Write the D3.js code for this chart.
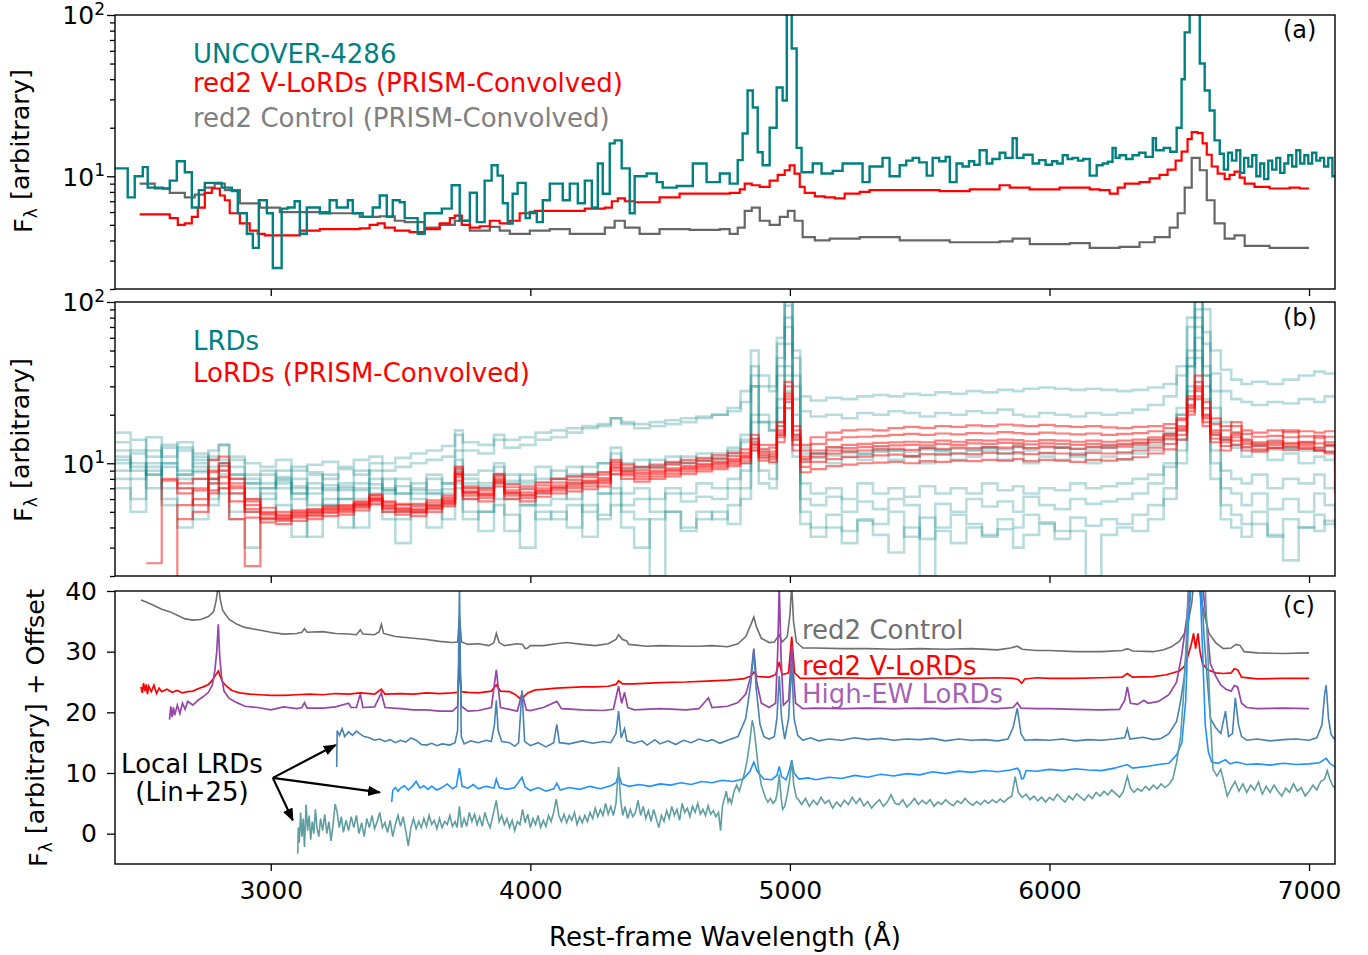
<!DOCTYPE html>
<html><head><meta charset="utf-8">
<script src="https://cdn.jsdelivr.net/npm/d3@7"></script>
<style>
body{margin:0;background:#fff;}
text{font-family:"DejaVu Sans",sans-serif;}
</style>
</head><body>
<svg id="chart" width="1368" height="955"></svg>
<script>
// ---------------- DATA ----------------
const xTicks = [3000,4000,5000,6000,7000];
const logMajor = [10,100];
const logMinor = [2,3,4,5,6,7,8,9,20,30,40,50,60,70,80,90];
const linTicks = [0,10,20,30,40];

// Panel (a): [rest wavelength, flux] step spectra
const uncover4286 = [[2400,11.2],[2449,7.4],[2476,10],[2507,11.4],[2526,8.5],[2584,8.4],[2611,9.4],[2638,12.4],[2669,10.6],[2696,6.4],[2723,8.2],[2746,9.1],[2811,8.5],[2850,8.1],[2873,5.9],[2908,4.4],[2931,3.6],[2954,7.1],[2985,5.9],[3008,2.7],[3042,6.3],[3065,6.4],[3092,7.0],[3112,4.4],[3139,6.4],[3189,5.9],[3227,7.1],[3254,6.4],[3297,7.1],[3316,5.9],[3354,5.6],[3393,6.4],[3420,7.6],[3447,5.6],[3470,7.1],
[3497,6.9],[3516,5.5],[3566,4.4],[3593,5.9],[3659,6.3],[3697,8.8],[3728,5.3],[3767,7.9],[3794,5.2],[3824,9.4],[3851,11.7],[3874,10.1],[3894,6.8],[3913,5.1],[3932,7.8],[3951,9.1],[3982,5.5],[3998,6.0],[4025,5.2],[4048,7.1],[4075,9.0],[4125,7.1],[4152,9.0],[4183,6.8],[4210,9.4],[4237,6.4],[4260,12.0],[4279,7.8],[4306,16.0],[4325,16.7],[4352,11.2],[4383,5.9],[4402,10.0],[4448,10.4],[4487,9.2],[4510,8.5],[4564,8.7],[4626,12.0],[4679,9.2],[4730,10.4],[4768,9.0],[4799,12.6],[4818,18.4],[4837,34],[4857,26.7],[4876,14.1],[4895,11.7],[4922,20],[4949,35.5],[4972,29.5],[4988,250],[5007,62],[5026,15],[5045,10.6],[5088,12.0],[5122,10.4],[5165,10.8],[5203,12.0],[5280,9.2],[5307,11.5],[5357,13.0],[5384,10.0],
[5423,11.7],[5448,12.5],[5473,13.0],[5498,12.2],[5527,10.1],[5550,13.0],[5575,12.4],[5600,13.2],[5616,9.2],[5642,12.0],[5665,11.5],[5690,12.4],[5710,11.8],[5731,14.5],[5758,12.0],[5780,12.8],[5808,14.0],[5830,13.0],[5858,17.2],[5874,13.0],[5900,13.6],[5935,12.0],[5960,12.6],[5985,11.8],[6010,12.4],[6030,12.0],[6051,13.5],[6070,12.8],[6089,13.0],[6110,12.5],[6130,12.8],[6155,10.1],[6182,11.7],[6205,12.0],[6225,12.3],[6243,15.0],[6255,13.0],[6270,13.5],[6295,12.8],[6320,13.5],[6345,14.0],[6370,13.2],[6398,17.2],[6410,14.5],[6440,15.0],[6465,14.2],[6490,20.0],[6509,40],[6521,78],[6540,250],[6579,50],[6598,34],[6617,25.6],[6636,16.7],
[6656,13.8],[6672,11],[6688,14],[6703,12.5],[6720,14.5],[6735,10.5],[6750,13],[6766,11.5],[6781,13.5],[6797,10],[6812,12],[6827,9.6],[6843,12.5],[6858,11],[6874,13],[6889,10.5],[6905,12],[6920,13.5],[6935,11.5],[6951,14.5],[6966,12],[6982,13.5],[6997,12],[7012,14],[7028,12.5],[7043,13],[7058,11.5],[7074,13],[7090,10],[7100,10]];

const red2VLoRDsPrism = [[2495,5.8],[2572,5.8],[2611,5.5],[2642,5.0],[2669,5.1],[2696,5.6],[2719,6.4],[2746,7.9],[2773,8.4],[2804,7.6],[2823,7.1],[2842,5.9],[2881,5.1],[2919,4.6],[2950,4.4],[2977,4.3],[3054,4.3],[3112,4.6],[3189,4.7],[3266,4.7],[3343,4.75],[3381,5.0],[3412,5.1],[3439,4.8],[3478,4.6],[3535,4.5],[3593,4.7],[3651,5.1],[3690,5.5],[3709,5.7],[3736,5.0],[3767,4.8],[3805,4.9],[3844,5.3],[3882,5.1],[3921,5.3],[3959,5.9],[4017,6.1],[4113,6.1],[4210,6.3],[4287,6.4],[4314,7.0],[4337,7.3],[4364,7.0],[4402,6.9],[4441,6.9],[4498,7.4],[4575,7.8],[4691,7.8],[4768,7.9],[4807,8.3],[4826,9.0],[4853,8.8],[4884,8.6],[4922,9.4],[4953,10.2],[4980,10.9],[4999,11.7],[5018,10.4],[5038,8.6],[5057,7.9],[5096,7.5],[5134,7.4],[5173,7.3],[5211,7.8],[5269,8.0],[5307,8.2],[5423,8.2],[5577,8.1],[5693,8.3],[5808,8.8],[5847,8.5],[5924,8.3],[6039,8.5],[6155,8.3],[6193,8.2],[6232,7.8],[6263,8.5],[6290,9.0],[6347,9.2],[6386,9.7],[6424,10.2],[6455,11],[6486,12.5],[6509,14.2],[6532,17],[6548,18.8],[6571,18.5],[6590,16],[6606,13.6],[6625,11.5],[6648,10.4],[6675,9.6],[6694,10.2],[6713,10.7],[6733,9.8],[6752,9.0],[6790,8.6],[6848,8.4],[6925,8.5],[6964,8.4],[7000,8.4]];

const red2ControlPrism = [[2495,9.0],[2553,8.4],[2611,7.9],[2669,7.4],[2707,7.7],[2746,8.5],[2784,9.0],[2823,8.2],[2881,6.8],[2958,6.4],[3035,6.0],[3112,6.0],[3227,5.9],[3343,5.6],[3420,5.65],[3478,5.3],[3516,5.2],[3593,4.8],[3651,5.0],[3709,5.3],[3767,4.6],[3844,4.85],[3882,4.6],[3921,4.4],[3998,4.6],[4075,4.7],[4152,4.4],[4248,4.4],[4287,4.8],[4325,5.3],[4364,4.8],[4421,4.4],[4498,4.7],[4614,4.65],[4730,4.7],[4768,4.4],[4799,4.8],[4826,6.1],[4853,6.4],[4884,5.3],[4922,5.0],[4961,5.6],[4992,6.1],[5018,5.3],[5049,4.2],[5096,4.0],[5153,4.1],[5269,4.2],[5346,4.2],[5423,4.0],[5616,3.9],[5808,3.95],[5858,4.1],[5924,3.8],[6078,3.85],[6155,3.6],[6270,3.65],[6347,3.9],[6405,4.2],[6463,4.8],[6494,5.9],[6521,8.5],[6548,13],[6579,10.9],[6606,7.1],[6636,5.1],[6675,4.1],[6713,4.3],[6752,3.7],[6848,3.6],[7000,3.6]];

// Panel (b): shared bin grid (rest wavelength) + per-object fluxes
const bGrid = [2400,2460,2520,2580,2640,2700,2760,2800,2840,2900,2960,3020,3080,3140,3200,3260,3320,3380,3430,3480,3540,3600,3660,3710,3740,3800,3860,3900,3960,4020,4080,4140,4200,4260,4310,4350,4400,4460,4520,4580,4640,4700,4760,4810,4850,4880,4920,4950,4980,5010,5040,5080,5140,5200,5260,5320,5380,5440,5500,5560,5620,5680,5740,5800,5860,5900,5960,6020,6080,6140,6200,6260,6320,6380,6440,6490,6530,6560,6590,6620,6660,6700,6740,6780,6840,6900,6960,7020,7060,7100];

const lrd1 = [13.5,12.0,14.5,11.0,12.5,10.5,12.0,13.0,11.0,10.0, 9.5,10.5,9.0,9.8,10.2,9.5,10.5,11.0,10.0,10.8, 11.5,12.0,12.8,16.0,13.5,13.0,15.0,14.0,14.5,15.5, 16.0,16.5,17.0,17.5,19.0,18.0,17.5,18.0,18.5,19.0, 19.5,20.0,21.0,24.0,40.0,30.0,28.0,60.0,110.0,50.0, 26.0,24.5,25.5,25.0,26.0,26.5,26.0,27.0,26.5,27.5, 27.0,28.0,27.5,28.5,28.0,29.0,29.5,29.0,28.5,29.0, 28.5,28.0,28.5,29.5,31.0,40.0,80.0,150.0,90.0,50.0, 38.0,33.0,31.0,32.0,31.0,33.0,35.0,37.0,36.0,36.0];
const lrd2 = [15.5,14.0,11.0,12.5,13.5,11.5,10.5,13.0,9.5,8.5, 9.0,8.2,9.5,8.8,8.0,9.2,8.5,10.0,9.0,9.5, 10.0,10.5,11.0,15.0,12.0,11.5,14.0,12.5,13.0,14.0, 14.5,15.5,16.5,17.0,19.0,17.5,16.5,17.0,17.5,18.0, 19.0,20.0,22.0,28.0,50.0,35.0,30.0,55.0,95.0,45.0, 21.0,19.5,20.0,19.0,20.5,20.0,21.0,20.5,19.5,20.5, 20.0,21.0,20.5,21.5,20.0,19.5,20.5,20.0,19.5,20.5, 20.0,20.5,21.5,23.0,26.0,35.0,70.0,120.0,65.0,36.0, 28.0,25.0,24.0,23.0,24.0,23.5,25.0,24.0,26.0,25.0];
const lrd3 = [11.0,9.5,12.0,10.0,8.5,9.0,11.0,10.5,8.0,7.5, 7.0,8.0,6.5,7.5,6.8,7.2,6.0,8.0,7.0,6.5, 7.5,6.8,7.5,10.5,8.0,7.5,9.5,7.8,8.5,8.0, 9.0,8.5,9.5,10.0,11.5,10.0,9.5,10.5,10.0,11.0, 10.5,11.5,12.0,15.0,35.0,20.0,18.0,45.0,100.0,35.0, 12.5,11.5,12.5,12.0,11.5,12.5,12.0,11.0,12.5,12.0, 11.5,12.0,12.5,11.5,13.0,12.0,11.5,12.5,11.0,12.0, 12.5,11.5,12.5,13.0,15.0,22.0,50.0,100.0,55.0,28.0, 18.0,15.5,14.0,13.0,14.0,12.5,13.5,12.0,13.0,12.5];
const lrd4 = [9.0,11.5,8.5,10.0,12.0,9.5,8.0,9.0,10.5,7.5, 8.5,7.0,8.0,6.5,8.5,7.0,7.5,9.0,6.8,8.0, 7.0,8.5,7.5,12.0,8.5,9.0,10.0,8.5,7.5,9.5, 8.0,9.5,8.5,10.0,12.5,9.0,10.5,9.5,11.0,10.0, 11.5,10.5,12.5,14.0,30.0,18.0,16.0,40.0,80.0,30.0, 10.5,11.5,10.0,11.0,10.5,12.0,10.5,11.0,10.0,11.5, 10.5,11.0,12.0,10.5,11.5,10.0,11.0,10.5,11.5,10.0, 11.0,10.5,11.5,12.0,14.0,20.0,45.0,90.0,40.0,22.0, 14.0,12.5,11.0,12.0,10.5,11.5,10.0,11.0,10.5,11.0];
const lrd5 = [10.5,8.0,9.5,7.0,8.5,10.0,7.5,8.5,6.5,7.0, 6.0,7.5,6.5,5.5,7.0,6.0,6.8,5.5,6.5,7.2, 6.0,5.5,6.5,8.5,6.0,7.0,7.5,6.5,5.5,6.5, 7.0,6.0,7.5,6.5,8.5,6.5,7.0,6.0,7.0,6.5, 7.5,7.0,8.0,10.0,18.0,12.0,11.0,25.0,55.0,20.0, 7.5,6.5,7.0,6.0,7.5,6.5,7.0,6.2,7.2,6.5, 7.0,6.5,7.5,6.8,7.2,6.5,7.0,6.8,7.5,7.0, 7.2,7.5,8.0,8.5,10.0,16.0,40.0,70.0,35.0,15.0, 9.0,8.0,7.5,8.5,7.0,8.0,7.5,8.5,7.0,8.0];
const lrd6 = [8.0,6.0,9.0,5.5,7.0,4.5,8.0,6.5,5.0,6.0, 4.5,5.5,3.5,5.0,6.0,4.0,5.5,7.0,5.0,4.5, 5.5,4.0,6.0,7.5,4.5,5.0,6.0,3.8,5.5,4.5, 5.0,4.0,5.5,4.5,6.5,5.0,4.5,2.0,5.0,4.0, 5.0,4.5,5.5,7.0,14.0,9.0,8.0,18.0,35.0,14.0, 5.0,4.0,4.8,3.8,4.5,4.2,5.0,3.5,4.6,4.0, 4.8,4.2,3.6,4.5,4.0,4.8,4.3,3.8,4.6,4.1, 4.5,4.2,4.8,5.5,7.0,12.0,28.0,50.0,25.0,10.0, 5.5,4.8,4.2,5.0,3.5,4.5,4.0,4.8,4.2,4.6];
const lrd7 = [12.0,10.0,7.0,13.0,9.0,11.0,6.0,10.0,8.5,5.0, 7.0,9.0,6.0,8.5,5.5,7.5,9.0,6.5,8.0,5.0, 6.5,8.0,5.5,9.0,7.0,5.0,8.5,6.0,7.0,5.5, 6.0,7.5,5.0,6.5,7.0,5.5,6.0,5.0,6.5,5.8, 6.2,6.0,7.0,9.0,20.0,11.0,10.0,22.0,40.0,15.0, 6.0,5.5,6.2,5.0,5.8,5.2,6.0,5.5,2.0,5.6, 5.0,6.0,5.4,5.8,5.0,6.2,5.5,5.2,6.0,5.6, 5.8,6.0,6.5,7.5,9.5,14.0,30.0,60.0,30.0,12.0, 7.0,6.5,5.5,6.5,5.2,6.0,5.0,6.5,5.5,5.0];
const lrd8 = [7.0,5.0,10.0,6.0,4.0,8.0,5.5,7.0,4.5,3.0, 6.5,4.5,7.0,3.5,5.5,6.0,4.0,6.0,4.5,3.2, 5.0,6.5,4.5,7.0,5.0,3.8,5.5,4.8,3.0,5.0, 4.5,5.5,3.5,4.8,5.5,4.0,3.0,4.5,5.0,3.8, 4.5,5.0,4.2,6.0,12.0,7.5,7.0,15.0,28.0,11.0, 4.2,3.5,4.0,3.2,4.4,3.6,2.8,4.0,3.4,3.8, 3.2,4.0,3.5,3.9,3.0,3.6,4.2,3.4,3.8,2.0, 3.6,4.0,3.8,4.5,6.0,10.0,25.0,45.0,20.0,8.0, 4.5,4.0,3.5,4.2,3.6,2.5,4.0,3.8,4.4,4.0];
const lrd9 = [10.0,9.0,8.5,9.5,8.0,8.8,9.5,10.0,8.5,8.0, 7.5,7.8,7.2,7.0,7.3,6.8,7.0,7.4,6.8,6.5, 6.8,6.5,6.9,9.5,7.5,7.2,8.5,7.5,7.8,7.6, 8.0,8.2,8.6,8.8,10.0,9.2,9.4,9.6,10.0,10.2, 10.5,10.8,11.5,13.5,30.0,18.0,16.0,35.0,70.0,25.0, 11.5,10.8,11.2,11.6,11.4,11.8,12.0,11.8,12.2,12.0, 12.3,12.1,12.5,12.2,12.6,12.4,12.8,12.5,12.3,12.6, 12.8,13.0,13.4,14.0,15.5,20.0,40.0,80.0,35.0,18.0, 14.0,13.0,12.5,12.8,12.2,12.5,12.0,12.4,11.8,9.0];

const lord1 = [null,null,null,null,7.5,8.0,10.5,11.0,8.0,6.0, 5.3,5.0,5.1,5.2,5.4,5.5,5.8,6.4,5.8,5.6, 5.6,5.9,6.3,9.5,7.2,7.0,8.6,7.4,7.2,7.6, 8.0,8.3,8.5,8.8,10.5,9.8,9.5,9.8,10.2,10.5, 10.8,11.2,11.6,12.2,15.0,13.0,13.0,18.0,32.0,17.0, 13.0,14.5,15.5,16.0,16.2,16.0,16.5,16.8,16.6,17.0, 16.8,17.2,17.0,17.4,17.2,17.0,17.3,17.0,16.8,17.0, 16.7,16.5,16.8,17.0,17.5,19.0,26.0,35.0,24.0,19.0, 17.0,18.0,16.0,15.5,16.0,15.6,15.8,15.5,15.8,15.8];
const lord2 = [null,null,null,null,null,7.0,9.0,10.0,7.5,5.8, 5.0,4.8,5.0,5.1,5.3,5.4,5.7,6.3,5.7,5.5, 5.4,5.7,6.1,9.2,7.0,6.8,8.3,7.1,6.9,7.3, 7.6,7.9,8.2,8.5,10.2,9.4,9.1,9.4,9.8,10.0, 10.3,10.7,11.1,11.6,14.2,12.3,12.5,17.0,30.0,16.0, 12.0,13.2,14.0,14.5,14.6,14.8,15.0,15.2,15.0,15.3, 15.1,15.4,15.3,15.6,15.4,15.2,15.5,15.3,15.1,15.3, 15.0,15.2,15.4,15.8,16.5,18.5,25.0,32.0,22.0,17.5, 16.0,17.0,15.2,14.6,14.8,14.5,14.7,14.4,14.6,14.6];
const lord3 = [null,null,null,7.8,6.5,6.8,8.8,9.6,7.2,5.5, 4.9,4.7,4.9,5.0,5.2,5.3,5.6,6.1,5.5,5.3, 5.2,5.5,5.9,8.8,6.7,6.5,8.0,6.8,6.6,7.0, 7.3,7.6,7.8,8.1,9.8,9.0,8.8,9.0,9.3,9.6, 9.9,10.2,10.6,11.2,13.6,11.8,11.8,16.0,27.0,15.0, 11.0,12.0,12.6,13.0,13.2,13.4,13.5,13.6,13.5,13.8, 13.6,13.9,13.8,14.0,13.9,13.7,13.9,13.8,13.6,13.8, 13.6,13.8,14.0,14.5,15.2,17.0,23.0,30.0,20.0,16.0, 14.5,15.5,14.0,13.5,13.7,13.4,13.6,13.3,13.5,13.0];
const lord4 = [null,null,2.4,8.0,7.0,5.5,6.8,7.5,4.5,2.3, 4.6,4.5,4.7,4.8,5.0,5.1,5.4,5.9,5.3,5.1, 5.0,5.3,5.7,8.5,6.5,6.3,7.7,6.5,6.3,6.7, 7.0,7.2,7.5,7.7,9.3,8.6,8.3,8.6,8.9,9.2, 9.5,9.8,10.2,10.8,13.0,11.2,11.0,15.0,25.0,14.0, 10.2,11.0,11.5,11.8,12.0,12.2,12.3,12.1,12.4,12.3, 12.5,12.4,12.6,12.5,12.7,12.4,12.6,12.5,12.3,12.6, 12.5,12.7,13.0,13.5,14.2,16.0,22.0,28.0,19.0,15.0, 13.5,14.5,13.2,12.8,13.0,12.7,12.9,12.5,12.8,12.5];
const lord5 = [null,null,null,1.8,5.5,6.0,7.5,8.2,6.5,5.0, 4.5,4.4,4.6,4.7,4.9,5.0,5.3,5.8,5.2,5.0, 4.9,5.2,5.6,8.2,6.3,6.1,7.5,6.3,6.1,6.5, 6.8,7.0,7.2,7.5,9.0,8.4,8.0,8.3,8.6,8.9, 9.2,9.5,9.9,10.4,12.5,10.8,10.6,14.5,24.0,13.0, 9.5,10.2,10.6,10.9,11.0,11.2,11.3,11.1,11.4,11.3, 11.5,11.4,11.6,11.5,11.7,11.4,11.6,11.5,11.3,11.6, 11.5,11.7,12.0,12.5,13.2,15.0,21.0,26.0,18.0,14.2, 12.8,13.8,12.6,12.2,12.4,12.1,12.3,12.0,11.5,11.0];
const lord6 = [null,null,null,null,4.5,5.0,6.5,7.0,5.8,4.6, 4.3,4.2,4.4,4.5,4.7,4.8,5.1,5.6,5.0,4.8, 4.7,5.0,5.4,7.8,6.0,5.8,7.2,6.0,5.8,6.2, 6.5,6.7,6.9,7.2,8.6,8.0,7.7,8.0,8.3,8.6, 8.9,9.2,9.6,10.0,12.0,10.4,10.2,13.5,22.0,12.0, 8.8,9.2,9.6,9.8,10.0,10.1,10.2,10.0,10.3,10.2, 10.4,10.3,10.5,10.4,10.6,10.3,10.5,10.4,10.2,10.5, 10.4,10.6,10.9,11.5,12.2,14.0,20.0,25.0,17.0,13.5, 12.0,13.0,12.0,11.8,12.5,16.0,12.5,12.0,11.8,11.5];
const lord7 = [null,null,null,null,null,null,8.0,9.0,7.0,5.2, 4.8,4.6,4.8,4.9,5.1,5.2,5.5,6.0,5.4,5.2, 5.1,5.4,5.8,8.6,6.6,6.4,7.8,6.6,6.4,6.8, 7.1,7.4,7.7,7.9,9.5,8.8,8.6,8.8,9.1,9.4, 9.7,10.0,10.4,11.0,13.2,11.5,11.4,15.5,26.0,14.5, 10.6,11.5,12.0,12.4,12.6,12.8,12.9,13.0,12.9,13.2, 13.0,13.3,13.2,13.4,13.3,13.1,13.3,13.2,13.0,13.2, 13.0,13.2,13.4,14.0,14.8,16.5,22.5,29.0,19.5,15.5, 14.0,15.0,13.6,13.2,13.4,13.1,13.3,14.8,13.0,6.5];

// Panel (c): [rest wavelength, flux + offset]
const red2Control = [[2500,38.5],[2520,38.2],[2550,37.6],[2580,37.0],[2610,36.6],[2640,36.0],[2670,35.4],[2700,35.2],[2730,35.3],[2760,35.8],[2780,36.6],[2790,38.5],[2798,41],[2806,38.5],[2815,36.8],[2840,35.3],[2870,34.5],[2900,34.0],[2950,33.6],[3000,33.2],[3050,32.9],[3100,33.0],[3120,33.2],[3130,33.8],[3140,33.2],[3200,33.3],[3250,33.0],[3300,32.9],[3330,32.8],[3345,33.6],[3355,32.9],[3400,32.8],[3418,33.3],[3426,34.5],[3435,33.0],[3480,32.5],[3550,32.2],[3600,32.0],[3650,31.7],[3700,31.5],[3720,31.6],[3727,35.8],[3735,31.6],[3760,31.2],[3800,31.3],[3840,31.0],[3860,31.5],[3869,33.0],[3880,31.5],[3900,31.0],[3950,31.3],[3970,31.2],[3980,30.5],[3990,30.6],[4000,31.0],[4050,31.0],[4100,31.3],[4140,31.5],[4200,31.2],[4250,31.0],[4300,31.3],[4330,32.0],[4340,32.8],[4355,32.0],[4370,31.8],[4380,31.2],[4450,30.9],[4500,31.0],[4600,30.9],[4650,30.9],[4700,31.0],[4760,30.8],[4800,31.3],[4830,32.5],[4850,34.5],[4861,35.7],[4872,34.0],[4890,32.2],[4920,31.5],[4940,31.6],[4959,32.8],[4970,31.6],[4990,32.5],[5000,36],[5007,41],[5014,35],[5025,31.6],[5050,30.6],[5100,30.6],[5200,30.5],[5300,30.5],[5400,30.4],[5500,30.5],[5600,30.4],[5700,30.5],[5800,30.3],[5850,30.6],[5876,30.9],[5895,30.4],[5950,30.2],[6000,30.2],[6100,30.0],[6200,30.0],[6280,30.2],[6300,30.5],[6320,30.1],[6400,30.0],[6440,30.3],[6470,30.8],[6500,31.7],[6520,33],[6535,35],[6548,38],[6555,41],[6575,41],[6585,38.5],[6600,35.5],[6615,33],[6640,31.5],[6670,30.5],[6700,30.6],[6712,31.0],[6720,31.2],[6735,31.0],[6750,30.0],[6800,29.8],[6900,29.7],[7000,29.8]];

const red2VLoRDs = [[2500,24.2],[2505,23.2],[2510,24.8],[2515,23.5],[2520,24.6],[2525,23.0],[2530,24.3],[2540,23.4],[2550,24.5],[2560,23.1],[2570,24.0],[2580,23.4],[2600,23.8],[2620,23.3],[2640,23.6],[2660,23.2],[2680,23.4],[2700,23.5],[2720,23.9],[2740,24.2],[2760,24.6],[2775,25.3],[2790,26.3],[2798,26.8],[2805,26.0],[2815,25.0],[2830,24.3],[2850,23.6],[2880,23.2],[2920,23.0],[2960,22.9],[3000,22.8],[3050,22.8],[3100,22.9],[3150,23.0],[3200,22.9],[3250,23.1],[3300,23.0],[3345,23.2],[3400,23.0],[3426,23.8],[3440,23.0],[3500,23.1],[3550,23.0],[3600,23.2],[3650,23.1],[3700,23.2],[3720,23.3],[3727,27.3],[3734,23.4],[3760,23.3],[3800,23.2],[3850,23.5],[3869,24.5],[3885,23.5],[3920,23.4],[3940,23.0],[3960,22.3],[3975,22.6],[3990,23.2],[4020,23.7],[4050,23.8],[4100,24.0],[4200,24.2],[4250,24.2],[4300,24.3],[4330,24.6],[4340,25.2],[4355,24.7],[4400,24.7],[4500,24.9],[4600,25.0],[4700,25.2],[4760,25.3],[4820,25.5],[4850,26.0],[4861,26.6],[4875,25.9],[4920,25.8],[4945,26.2],[4959,28.3],[4970,26.2],[4995,26.5],[5007,32.5],[5018,26.5],[5040,25.6],[5100,25.6],[5200,25.7],[5300,25.6],[5400,25.7],[5500,25.6],[5600,25.7],[5700,25.6],[5800,25.7],[5860,25.6],[5880,25.4],[5893,24.8],[5905,25.5],[5950,25.7],[6000,25.6],[6100,25.6],[6200,25.7],[6280,25.8],[6300,26.4],[6320,25.8],[6400,25.9],[6450,26.2],[6500,26.8],[6520,27.6],[6535,29.5],[6548,31.5],[6555,33.0],[6563,30.5],[6572,33.0],[6580,30.0],[6590,28.0],[6610,27.0],[6640,26.5],[6670,26.4],[6700,26.5],[6712,27.2],[6725,27.0],[6740,25.8],[6800,25.5],[6900,25.6],[7000,25.6]];

const highEWLoRDs = [[2610,18.8],[2615,21.0],[2620,19.2],[2625,20.8],[2630,19.5],[2640,21.2],[2650,19.8],[2660,21.5],[2670,20.5],[2680,21.8],[2700,21.2],[2720,22.0],[2740,22.6],[2760,23.3],[2775,24.5],[2785,27],[2792,30],[2798,34.5],[2803,29.5],[2810,26],[2820,23.5],[2840,22.3],[2870,21.6],[2900,21.0],[2950,20.8],[3000,20.4],[3050,20.9],[3100,20.6],[3120,20.8],[3130,21.6],[3140,20.7],[3200,20.7],[3250,20.9],[3300,21.5],[3310,20.8],[3330,20.8],[3345,23.0],[3355,20.8],[3400,20.9],[3426,23.2],[3440,20.8],[3500,20.6],[3550,20.4],[3600,20.4],[3650,20.2],[3700,20.2],[3720,21],[3727,31],[3734,21],[3760,20.2],[3800,20.3],[3850,20.8],[3869,27.0],[3885,20.8],[3920,20.5],[3950,20.2],[3968,23.2],[3985,20.4],[4000,20.3],[4050,20.8],[4102,21.8],[4120,20.6],[4200,20.4],[4280,20.3],[4320,20.5],[4340,24.3],[4352,21.5],[4363,23.3],[4375,20.8],[4400,20.4],[4500,20.6],[4600,20.4],[4650,20.6],[4686,22.4],[4700,20.8],[4760,21.0],[4800,21.6],[4830,23.0],[4850,26],[4861,30.5],[4872,25],[4890,21.5],[4920,20.8],[4945,21.5],[4953,30],[4959,41],[4966,29],[4975,21.2],[4995,22],[5001,26],[5007,31],[5014,26],[5022,21.5],[5050,20.6],[5100,20.7],[5200,20.6],[5300,20.7],[5400,20.6],[5500,20.7],[5600,20.6],[5700,20.7],[5800,20.6],[5860,20.8],[5876,21.6],[5890,20.7],[5950,20.6],[6000,20.6],[6100,20.5],[6200,20.4],[6270,20.5],[6290,22],[6300,24.2],[6312,21.5],[6340,21.3],[6364,22.0],[6380,21.5],[6420,21.8],[6460,22.9],[6490,25],[6510,29.6],[6530,36],[6540,41],[6590,41],[6605,35],[6620,28],[6640,26],[6660,24.5],[6680,23.8],[6700,23.5],[6712,24.4],[6725,24.2],[6740,21.5],[6760,20.8],[6800,20.6],[6900,20.7],[7000,20.6]];

const localLRD1 = [[3254,11.0],[3256,17.0],[3265,16.2],[3275,17.3],[3285,16.0],[3300,16.8],[3315,16.2],[3330,16.9],[3345,16.4],[3360,16.0],[3380,15.8],[3400,15.4],[3420,15.6],[3440,15.2],[3460,15.5],[3480,15.0],[3500,15.4],[3520,15.1],[3540,15.8],[3560,15.4],[3580,14.7],[3600,14.6],[3620,14.9],[3640,14.5],[3660,14.8],[3690,14.6],[3710,15.0],[3720,17],[3727,41],[3734,16],[3745,14.8],[3770,15.3],[3800,15.0],[3830,15.4],[3850,15.2],[3862,18],[3869,22.0],[3876,17],[3890,15.2],[3920,15.0],[3940,14.4],[3955,15],[3968,23.6],[3978,15.2],[4000,14.5],[4030,15.0],[4060,14.3],[4090,15.0],[4102,18.0],[4112,15.0],[4150,14.8],[4200,15.3],[4240,14.9],[4280,15.2],[4310,15.0],[4330,16.5],[4340,20.2],[4350,15.8],[4363,17.3],[4372,15.3],[4400,14.9],[4430,15.3],[4450,14.6],[4480,15.5],[4500,14.8],[4530,15.3],[4560,14.7],[4590,15.4],[4620,15.0],[4650,15.6],[4680,15.2],[4700,15.5],[4730,14.9],[4760,15.4],[4800,16.0],[4830,19],[4850,25],[4861,30.3],[4870,24],[4885,18],[4900,16],[4920,15.6],[4940,16],[4950,19],[4959,26],[4968,19],[4980,15.6],[4995,19],[5007,28],[5016,19],[5030,16.2],[5050,15.4],[5080,15.8],[5110,15.3],[5150,15.6],[5200,15.4],[5250,15.8],[5300,15.5],[5350,15.7],[5400,15.4],[5450,15.6],[5500,15.5],[5550,15.7],[5600,15.3],[5650,15.6],[5700,15.4],[5750,15.5],[5800,15.3],[5840,15.6],[5860,17.5],[5876,20.7],[5890,16.5],[5905,15.4],[5950,15.5],[6000,15.4],[6050,15.6],[6100,15.3],[6150,15.5],[6200,15.4],[6250,15.6],[6290,15.8],[6300,17.3],[6310,15.6],[6360,15.9],[6400,15.5],[6430,15.7],[6460,16.5],[6490,18.5],[6505,21.8],[6520,26],[6535,35],[6545,41],[6585,41],[6595,33],[6605,27],[6620,19],[6640,17.5],[6660,16.5],[6678,20.2],[6690,16.0],[6705,16.5],[6716,22.4],[6728,18],[6740,16.0],[6760,15.4],[6800,15.6],[6850,15.3],[6900,15.5],[6950,15.6],[7000,15.4],[7030,15.8],[7050,18],[7060,23],[7066,24.5],[7075,19],[7085,16.3],[7100,15.5]];

const localLRD2 = [[3466,5.2],[3470,7.1],[3480,7.6],[3490,7.0],[3500,7.5],[3515,7.9],[3530,7.2],[3545,7.8],[3560,8.6],[3575,7.5],[3590,7.9],[3605,7.3],[3620,7.8],[3640,7.2],[3660,7.6],[3680,8.2],[3700,7.4],[3715,7.8],[3727,10.8],[3737,7.8],[3760,7.5],[3780,8.1],[3800,7.4],[3830,7.8],[3860,7.5],[3869,9.0],[3880,7.6],[3910,7.3],[3940,7.6],[3968,9.3],[3980,7.7],[4000,7.1],[4030,7.6],[4060,7.0],[4090,7.4],[4102,8.3],[4115,7.2],[4150,7.6],[4190,7.3],[4230,7.8],[4270,7.4],[4310,7.9],[4330,8.4],[4340,9.8],[4352,8.2],[4380,7.8],[4420,8.1],[4460,7.8],[4500,8.2],[4540,8.0],[4580,8.4],[4620,8.1],[4660,8.6],[4700,8.4],[4740,8.8],[4780,8.6],[4820,9.0],[4845,10.2],[4861,11.8],[4875,10.2],[4900,9.0],[4930,8.9],[4950,9.6],[4959,11.1],[4968,9.4],[4985,8.9],[4998,10.5],[5007,12.1],[5016,10],[5035,9.0],[5070,9.2],[5100,8.9],[5150,9.3],[5200,9.1],[5250,9.6],[5300,9.3],[5350,9.8],[5400,9.5],[5450,9.9],[5500,9.7],[5550,10.2],[5600,9.9],[5650,10.3],[5700,10.1],[5750,10.4],[5800,10.2],[5850,10.5],[5876,10.8],[5885,10.3],[5893,9.0],[5900,9.1],[5910,10.4],[5950,10.3],[6000,10.6],[6050,10.4],[6100,10.7],[6150,10.5],[6200,10.4],[6250,10.8],[6300,11.4],[6320,10.8],[6380,11.1],[6420,11.4],[6460,11.6],[6490,13],[6510,15],[6525,22],[6535,35],[6545,41],[6580,41],[6590,30],[6600,18],[6612,13.5],[6625,11.8],[6650,11.6],[6678,12.2],[6695,11.5],[6720,11.8],[6760,11.4],[6800,11.5],[6850,11.3],[6900,11.6],[6950,11.4],[7000,11.5],[7040,11.7],[7066,12.4],[7080,11.6],[7100,11.0]];

const localLRD3 = [[3104,-3.3],[3106,1.0],[3110,-1.5],[3115,3.5],[3120,-0.5],[3125,2.5],[3130,-2.2],[3136,4.8],[3142,0.5],[3148,3.0],[3154,-1.0],[3160,2.0],[3166,0.0],[3172,4.0],[3178,1.0],[3185,-0.5],[3192,2.5],[3200,0.5],[3208,3.2],[3216,0.0],[3224,2.0],[3232,-1.2],[3240,1.5],[3248,4.9],[3256,3.5],[3264,1.0],[3272,2.8],[3280,0.2],[3290,2.2],[3300,0.5],[3310,2.8],[3320,1.0],[3330,3.0],[3340,0.0],[3350,1.8],[3360,-0.5],[3370,2.5],[3380,1.0],[3390,3.0],[3400,0.8],[3410,2.0],[3420,3.5],[3430,1.0],[3440,1.8],[3450,0.2],[3460,2.2],[3470,-0.5],[3480,1.5],[3490,3.0],[3500,1.2],[3510,2.8],[3520,0.5],[3530,-2.0],[3540,1.0],[3550,2.5],[3560,0.8],[3570,2.0],[3580,1.0],[3590,2.5],[3600,1.2],[3610,3.0],[3620,1.5],[3630,2.2],[3640,0.8],[3650,2.5],[3660,1.0],[3670,2.0],[3680,1.5],[3690,3.0],[3700,1.2],[3710,2.0],[3718,1.0],[3727,4.5],[3735,1.0],[3745,2.5],[3755,1.2],[3765,3.5],[3775,2.0],[3785,3.2],[3795,1.5],[3805,2.8],[3815,1.2],[3825,3.5],[3835,2.0],[3845,1.0],[3855,2.8],[3869,5.5],[3880,2.0],[3890,3.0],[3900,1.5],[3910,2.5],[3920,1.0],[3930,2.2],[3940,0.5],[3950,2.0],[3960,1.5],[3970,4.0],[3980,1.8],[3990,3.2],[4000,1.0],[4010,2.5],[4020,1.5],[4030,3.0],[4040,1.0],[4050,2.2],[4060,1.2],[4070,3.0],[4080,2.0],[4090,3.5],[4100,5.7],[4110,3.0],[4120,2.0],[4130,3.2],[4140,1.8],[4150,3.0],[4160,2.2],[4170,3.5],[4180,1.5],[4190,2.8],[4200,1.8],[4210,3.0],[4220,2.0],[4230,3.5],[4240,2.5],[4250,4.2],[4260,2.8],[4270,4.0],[4280,3.0],[4290,5.0],[4300,3.2],[4310,4.5],[4320,3.0],[4330,5.0],[4340,11.0],[4348,5.5],[4356,3.0],[4365,4.5],[4375,2.5],[4385,4.0],[4395,2.8],[4405,3.5],[4415,5.5],[4425,3.0],[4435,4.5],[4445,2.5],[4455,3.8],[4465,2.0],[4475,4.0],[4485,2.5],[4495,1.0],[4505,3.0],[4515,2.0],[4525,3.8],[4535,2.5],[4545,4.5],[4555,3.0],[4565,4.0],[4575,2.2],[4585,5.0],[4595,3.5],[4605,4.2],[4615,2.8],[4625,4.5],[4635,3.5],[4645,5.0],[4655,3.2],[4665,4.0],[4675,3.0],[4685,4.6],[4695,3.2],[4705,3.8],[4715,2.8],[4725,3.5],[4733,0.5],[4740,4.5],[4747,5.7],[4755,7.0],[4762,5.2],[4768,5.8],[4775,5.0],[4785,7],[4795,8],[4805,7],[4815,8.5],[4825,10],[4835,12],[4845,15],[4855,18.7],[4861,17.5],[4868,15],[4878,11],[4890,8],[4905,6.0],[4915,5.2],[4925,5.8],[4935,5.0],[4945,5.5],[4952,7.0],[4959,9.8],[4966,6.0],[4972,4.0],[4980,4.5],[4990,6.5],[4998,8.5],[5007,12.0],[5015,8.0],[5025,6.0],[5035,5.5],[5045,4.8],[5060,5.8],[5075,4.5],[5090,5.5],[5105,4.8],[5120,6.0],[5135,5.0],[5150,5.5],[5165,4.2],[5180,5.2],[5195,4.5],[5210,5.5],[5225,4.8],[5240,6.0],[5255,5.0],[5270,5.8],[5285,4.6],[5300,5.3],[5315,4.2],[5330,5.0],[5345,5.6],[5360,4.5],[5375,5.2],[5390,6.4],[5405,5.0],[5420,4.8],[5435,5.6],[5450,4.4],[5465,5.0],[5480,5.8],[5495,4.8],[5510,5.5],[5525,4.9],[5540,5.6],[5555,4.5],[5570,5.2],[5585,4.8],[5600,5.6],[5615,5.0],[5630,4.6],[5645,5.4],[5660,5.0],[5675,5.8],[5690,5.1],[5705,4.7],[5720,5.3],[5735,4.8],[5750,5.5],[5765,5.0],[5780,5.6],[5795,5.1],[5810,5.7],[5825,5.2],[5840,5.8],[5855,6.2],[5868,9.4],[5880,6.8],[5895,6.0],[5910,6.5],[5925,5.6],[5940,6.2],[5955,5.4],[5970,6.0],[5985,5.2],[6000,6.0],[6015,5.5],[6030,6.5],[6045,5.8],[6060,5.2],[6075,6.2],[6090,5.6],[6105,6.6],[6120,6.0],[6135,5.5],[6150,6.4],[6165,5.8],[6180,6.8],[6195,6.2],[6210,7.0],[6225,6.4],[6240,7.2],[6255,6.6],[6270,6.0],[6285,7.0],[6300,9.4],[6312,7.5],[6325,6.8],[6340,7.4],[6355,7.0],[6370,7.8],[6385,7.2],[6400,8.0],[6415,7.4],[6430,8.2],[6445,7.6],[6460,8.1],[6475,9.0],[6490,11.8],[6505,16],[6515,21.8],[6525,30],[6535,41],[6600,41],[6610,30],[6618,21],[6630,10.6],[6645,9.5],[6660,10.6],[6675,8.0],[6685,6.2],[6700,7.5],[6715,8.6],[6730,7.0],[6745,8.2],[6760,6.8],[6775,8.0],[6790,7.2],[6805,8.5],[6820,6.5],[6835,7.8],[6850,6.8],[6865,8.0],[6880,7.0],[6895,6.2],[6910,7.5],[6925,6.8],[6940,8.2],[6955,7.0],[6970,7.6],[6985,6.2],[7000,7.0],[7015,8.0],[7030,7.2],[7045,8.6],[7060,9.0],[7070,10.4],[7080,9.0],[7090,8.0],[7100,7.5]];

// ---------------- CHART ----------------
const svg = d3.select("#chart");
const L = 115, R = 1335;
const P = {a:{t:15,b:289}, b:{t:302,b:576}, c:{t:591,b:864}};
const x = d3.scaleLinear().domain([2400,7100]).range([L,R]);
const ya = d3.scaleLog().domain([2,100]).range([P.a.b,P.a.t]);
const yb = d3.scaleLog().domain([2,100]).range([P.b.b,P.b.t]);
const yc = d3.scaleLinear().domain([-5,40]).range([P.c.b,P.c.t]);

const defs = svg.append("defs");
Object.entries(P).forEach(([k,p]) => {
  defs.append("clipPath").attr("id","clip-"+k).append("rect")
    .attr("x",L).attr("y",p.t).attr("width",R-L).attr("height",p.b-p.t);
});
defs.append("marker").attr("id","arrow").attr("viewBox","0 0 10 10").attr("refX",9).attr("refY",5)
  .attr("markerWidth",13).attr("markerHeight",13).attr("markerUnits","userSpaceOnUse").attr("orient","auto")
  .append("path").attr("d","M0,1 L10,5 L0,9 z").attr("fill","#000");

function drawSeries(panel, yScale, data, color, width, opacity, curve) {
  const line = d3.line().defined(d => d[1] != null).x(d => x(d[0])).y(d => yScale(d[1])).curve(curve);
  svg.append("g").attr("clip-path","url(#clip-"+panel+")").append("path")
    .datum(data).attr("d",line).attr("fill","none").attr("stroke",color)
    .attr("stroke-width",width).attr("stroke-opacity",opacity).attr("stroke-linejoin","miter");
}

// Panel a
drawSeries("a", ya, red2ControlPrism, "#666666", 2.2, 1, d3.curveStepAfter);
drawSeries("a", ya, red2VLoRDsPrism, "#ff0000", 2.2, 1, d3.curveStepAfter);
drawSeries("a", ya, uncover4286, "#008080", 2.4, 1, d3.curveStepAfter);

// Panel b
const lrdSet = [lrd1,lrd2,lrd3,lrd4,lrd5,lrd6,lrd7,lrd8,lrd9];
const lordSet = [lord1,lord2,lord3,lord4,lord5,lord6,lord7];
lrdSet.forEach(s => drawSeries("b", yb, bGrid.map((w,i)=>[w,s[i]]), "#008080", 2.6, 0.28, d3.curveStepAfter));
lordSet.forEach(s => drawSeries("b", yb, bGrid.map((w,i)=>[w,s[i]]), "#ff0000", 2.2, 0.5, d3.curveStepAfter));

// Panel c
drawSeries("c", yc, red2Control, "#6e6e6e", 1.6, 1, d3.curveLinear);
drawSeries("c", yc, red2VLoRDs, "#ff0000", 1.7, 1, d3.curveLinear);
drawSeries("c", yc, highEWLoRDs, "#9546a8", 1.7, 1, d3.curveLinear);
drawSeries("c", yc, localLRD1, "#4682b4", 1.6, 1, d3.curveLinear);
drawSeries("c", yc, localLRD2, "#1e90ff", 1.6, 1, d3.curveLinear);
drawSeries("c", yc, localLRD3, "#5f9ea0", 1.6, 1, d3.curveLinear);

// Frames & axes
function styleAxis(g){ g.select(".domain").remove(); g.selectAll(".tick line").attr("stroke","#000").attr("stroke-width",1.3); g.selectAll("text").attr("font-family","DejaVu Sans").attr("font-size",25).attr("fill","#000"); }
Object.entries(P).forEach(([k,p]) => {
  const gx = svg.append("g").attr("transform",`translate(0,${p.b})`)
    .call(d3.axisBottom(x).tickValues(xTicks).tickSize(7).tickPadding(8).tickFormat(k==="c"? d3.format("d") : ""));
  styleAxis(gx);
  if (k==="c") gx.selectAll("text").attr("dy","0.78em");
});
[["a",ya],["b",yb]].forEach(([k,ys]) => {
  const gm = svg.append("g").attr("transform",`translate(${L},0)`)
    .call(d3.axisLeft(ys).tickValues(logMinor).tickSize(5).tickFormat(""));
  styleAxis(gm);
  const gM = svg.append("g").attr("transform",`translate(${L},0)`)
    .call(d3.axisLeft(ys).tickValues(logMajor).tickSize(8).tickPadding(18).tickFormat(""));
  styleAxis(gM);
  gM.selectAll(".tick text").each(function(d){
    const t = d3.select(this).attr("font-size",25).attr("dy","0.35em");
    t.append("tspan").text("10");
    t.append("tspan").attr("dy","-0.55em").attr("font-size",17).text(Math.round(Math.log10(d)));
  });
  gM.selectAll(".tick text").attr("x",-10).attr("text-anchor","end");
});
const gc = svg.append("g").attr("transform",`translate(${L},0)`)
  .call(d3.axisLeft(yc).tickValues(linTicks).tickSize(8).tickPadding(10).tickFormat(d3.format("d")));
styleAxis(gc);
Object.values(P).forEach(p => {
  svg.append("rect").attr("x",L).attr("y",p.t).attr("width",R-L).attr("height",p.b-p.t)
    .attr("fill","none").attr("stroke","#000").attr("stroke-width",1.4);
});

// Texts
function txt(xp, yp, s, color, size, anchor){ return svg.append("text").attr("x",xp).attr("y",yp).attr("fill",color).attr("font-size",size).attr("text-anchor",anchor||"start").text(s); }
txt(193, 63, "UNCOVER-4286", "#008080", 26);
txt(193, 92, "red2 V-LoRDs (PRISM-Convolved)", "#ff0000", 26);
txt(193, 127, "red2 Control (PRISM-Convolved)", "#808080", 26);
txt(193, 350, "LRDs", "#008080", 26);
txt(193, 382, "LoRDs (PRISM-Convolved)", "#ff0000", 26);
txt(1283, 38, "(a)", "#000", 24);
txt(1283, 326, "(b)", "#000", 24);
txt(1283, 614, "(c)", "#000", 24);
txt(802, 639, "red2 Control", "#707070", 26);
txt(802, 675, "red2 V-LoRDs", "#ff0000", 26);
txt(802, 703, "High-EW LoRDs", "#9546a8", 26).attr("fill-opacity",0.85);
txt(192, 773, "Local LRDs", "#000", 26, "middle");
txt(192, 801, "(Lin+25)", "#000", 26, "middle");

// arrows (data coordinates of panel c)
const arrowTail = [3008, 9.2];
const arrowHeads = [[3250, 14.6],[3420, 6.8],[3085, 2.2]];
arrowHeads.forEach(h => {
  svg.append("line").attr("x1",x(arrowTail[0])).attr("y1",yc(arrowTail[1]))
    .attr("x2",x(h[0])).attr("y2",yc(h[1])).attr("stroke","#000").attr("stroke-width",2.2)
    .attr("marker-end","url(#arrow)");
});

// axis labels
txt(725, 946, "Rest-frame Wavelength (Å)", "#000", 26, "middle");
function ylab(cx, cy, extra){
  const t = svg.append("text").attr("transform",`translate(${cx},${cy}) rotate(-90)`).attr("text-anchor","middle").attr("font-size",25.5).attr("fill","#000");
  t.append("tspan").text("F");
  t.append("tspan").attr("dy","0.3em").attr("font-size",17).text("λ");
  t.append("tspan").attr("dy","-0.3em").text(" [arbitrary]" + extra);
}
ylab(32, 151, "");
ylab(32, 440, "");
ylab(47, 728, " + Offset");
</script>
</body></html>
